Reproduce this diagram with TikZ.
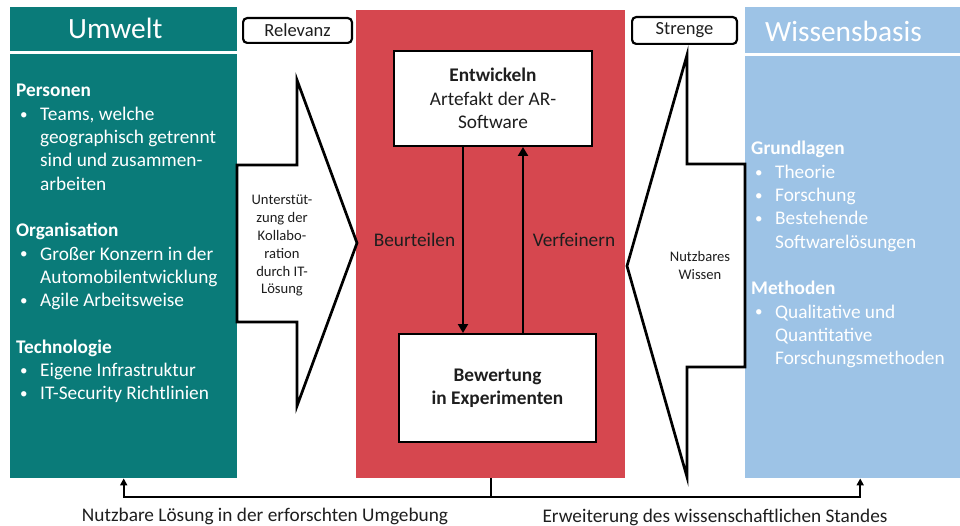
\documentclass[tikz,border=0pt]{standalone}
\usepackage{fontspec}
\setmainfont{Carlito}
\usetikzlibrary{arrows.meta,calc}

\definecolor{umweltteal}{RGB}{10,123,121}
\definecolor{dsrred}{RGB}{214,71,79}
\definecolor{wissenblue}{RGB}{157,195,230}
\definecolor{ink}{RGB}{30,30,30}

\newcommand{\bulletmark}{\makebox[20pt][l]{\raisebox{1.2pt}{\scalebox{0.78}{\textbullet}}}}

\begin{document}
\begin{tikzpicture}[x=1pt,y=-1pt,
  panel/.style={draw=none, inner sep=0, minimum width=#1},
  listline/.style={font=\fontsize{19.3}{23.3}\selectfont, text=white, inner sep=0, anchor=base west},
  headtext/.style={font=\fontsize{29.4}{35}\selectfont, text=white, inner sep=0, anchor=base west},
  tagbox/.style={draw=black, line width=2.2pt, rounded corners=4pt, fill=white, inner sep=0,
    font=\fontsize{18.5}{20}\selectfont, text=ink},
  stepbox/.style={draw=black, line width=2.3pt, fill=white, inner sep=0, align=center,
    font=\fontsize{19.3}{23.4}\selectfont, text=ink},
  bigarrow/.style={draw=black, line width=2.7pt, fill=white, line join=miter},
  arrowtext/.style={align=center, inner sep=0, anchor=base, text=ink,
    font=\fontsize{14.6}{17.8}\selectfont},
  plaintext/.style={inner sep=0, anchor=base, text=ink, font=\fontsize{19.3}{23.3}\selectfont},
  flow/.style={draw=black, line width=2.3pt, -{Triangle[length=9pt,width=10pt]}},
  outflow/.style={draw=black, line width=2pt, -{Triangle[length=7pt,width=7pt]}},
]
\useasboundingbox (0,0) rectangle (960,526);
\clip (0,0) rectangle (960,526);

% --- three columns ---
\node[panel=227pt, minimum height=44pt, fill=umweltteal, anchor=north west] (envHead) at (10,7) {};
\node[panel=227pt, minimum height=424pt, fill=umweltteal, anchor=north west] (envBody) at (10,54) {};
\node[panel=269pt, minimum height=468pt, fill=dsrred, anchor=north west] (dsr) at (356,10) {};
\node[panel=230pt, minimum height=46pt, fill=wissenblue, anchor=north west] (kbHead) at (745,7) {};
\node[panel=230pt, minimum height=422pt, fill=wissenblue, anchor=north west] (kbBody) at (745,56) {};

\node[headtext] (envTitle) at (68,39) {Umwelt};
\node[headtext] (kbTitle) at (765,41.7) {Wissensbasis};

% --- environment list ---
\foreach \x/\y/\t [count=\i] in {
  16/97/{\textbf{Personen}},
  20/120.3/{\bulletmark Teams, welche},
  40/143.6/{geographisch getrennt},
  40/166.9/{sind und zusammen-},
  40/190.2/{arbeiten},
  16/236.8/{\textbf{Organisation}},
  20/260.1/{\bulletmark Großer Konzern in der},
  40/283.4/{Automobilentwicklung},
  20/306.7/{\bulletmark Agile Arbeitsweise},
  16/353.3/{\textbf{Technologie}},
  20/376.6/{\bulletmark Eigene Infrastruktur},
  20/399.9/{\bulletmark IT-Security Richtlinien}}
  \node[listline] (env\i) at (\x,\y) {\t};

% --- knowledge base list ---
\foreach \x/\y/\t [count=\i] in {
  751/155/{\textbf{Grundlagen}},
  755/178.3/{\bulletmark Theorie},
  755/201.6/{\bulletmark Forschung},
  755/224.9/{\bulletmark Bestehende},
  775/248.2/{Softwarelösungen},
  751/294.8/{\textbf{Methoden}},
  755/318.1/{\bulletmark Qualitative und},
  775/341.4/{Quantitative},
  775/364.7/{Forschungsmethoden}}
  \node[listline] (kb\i) at (\x,\y) {\t};

% --- cycle labels ---
\node[tagbox, minimum width=108.8pt, minimum height=24.8pt] (relevanz) at (297.5,30.5) {Relevanz};
\node[tagbox, minimum width=104.8pt, minimum height=26.8pt] (strenge) at (684.5,30.5) {Strenge};

% --- relevance and rigor arrows ---
\draw[bigarrow] (237,165) -- (297,165) -- (297,80) -- (357,243) -- (297,406) -- (297,322) -- (237,322) -- cycle;
\draw[bigarrow] (745,164) -- (687,164) -- (687,55) -- (627,266) -- (687,477) -- (687,367) -- (745,367) -- cycle;

% anchor=base sits on the last line of a multi-line node
\node[arrowtext] (relText) at (282,294) {Unterstüt-\\zung der\\Kollabo-\\ration\\durch IT-\\Lösung};
\node[arrowtext] (rigText) at (700,279.3) {Nutzbares\\Wissen};

% --- design cycle ---
\node[stepbox, minimum width=197.7pt, minimum height=94.7pt] (entw) at (493,98.5)
  {\textbf{Entwickeln}\\Artefakt der AR-\\Software};
\node[stepbox, minimum width=196.7pt, minimum height=107.7pt] (bew) at (497.5,388)
  {\textbf{Bewertung}\\\textbf{in Experimenten}};

\coordinate (downStart) at ([xshift=-30pt]entw.south);
\coordinate (upStart) at ([xshift=30pt]entw.south);
\draw[flow] (downStart) -- (downStart |- bew.north);
\draw[flow] (upStart |- bew.north) -- (upStart);

\node[plaintext] (beurteilen) at (414.5,247) {Beurteilen};
\node[plaintext] (verfeinern) at (574,247) {Verfeinern};

% --- outputs ---
\coordinate (split) at ($(dsr.south)+(0,19)$);
\draw[draw=black, line width=2pt] (dsr.south) -- (split);
\draw[outflow] (split) -| (envBody.south);
\draw[outflow] (split) -| (kbBody.south);

\node[plaintext] (envOut) at (265,521) {Nutzbare Lösung in der erforschten Umgebung};
\node[plaintext] (kbOut) at (715,522.5) {Erweiterung des wissenschaftlichen Standes};
\end{tikzpicture}
\end{document}
